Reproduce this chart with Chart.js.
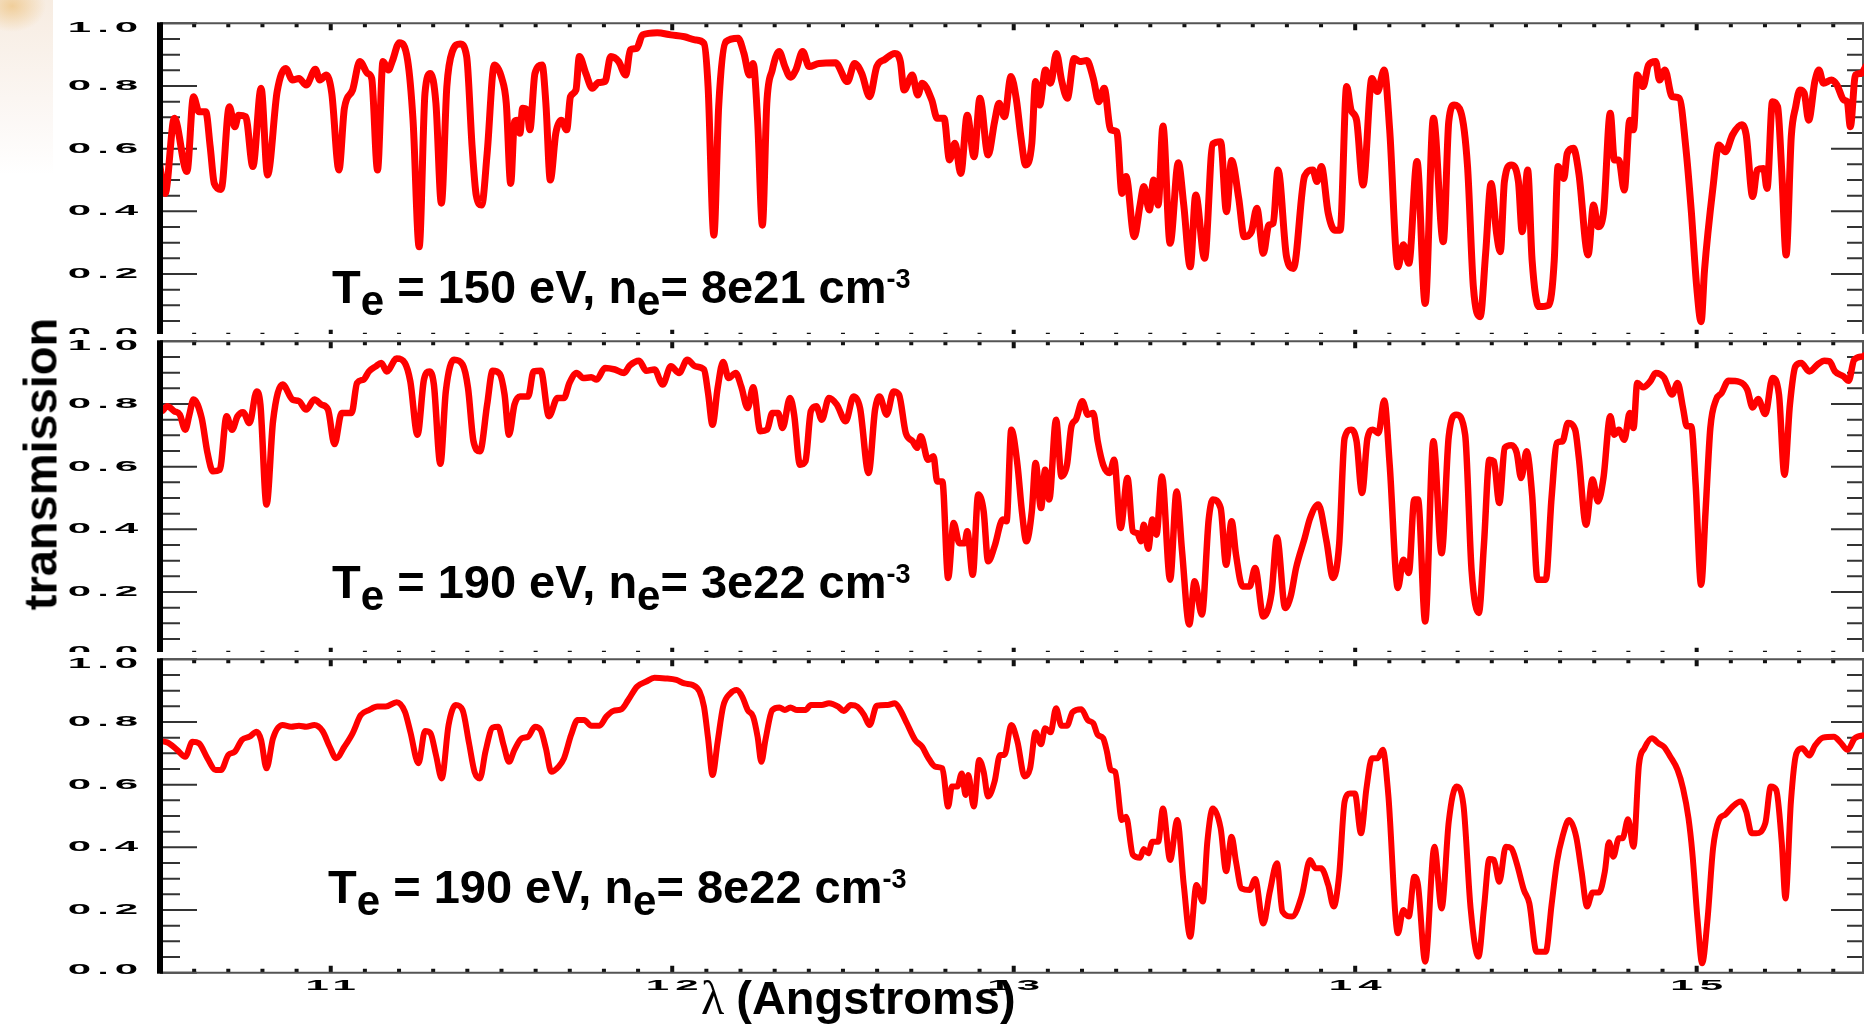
<!DOCTYPE html>
<html>
<head>
<meta charset="utf-8">
<title>Transmission spectra</title>
<script src="https://cdn.jsdelivr.net/npm/chart.js@4.4.0/dist/chart.umd.min.js"></script>
<style>
  body { margin: 0; width: 1864px; height: 1024px; overflow: hidden; position: relative; background: #fff; }
  canvas { position: absolute; left: 0; }
  #corner {
    position: absolute; left: 0; top: 0; width: 53px; height: 175px;
    background:
      radial-gradient(ellipse 34px 26px at 12px 6px, rgba(238, 196, 130, 0.75), rgba(245, 225, 200, 0) 100%),
      linear-gradient(to bottom, rgba(246, 234, 222, 0.9), rgba(250, 244, 240, 0.6) 70%, rgba(255, 255, 255, 0));
  }
  #ytitle {
    position: absolute; left: 40px; top: 464px; z-index: 5;
    transform: translate(-50%, -50%) rotate(-90deg);
    font: bold 47px 'Liberation Sans', Arial, sans-serif; line-height: 1; white-space: nowrap; color: #000;
  }
</style>
</head>
<body>
<div id="corner"></div>
<canvas id="panelTop" width="1864" height="340" style="top:0; z-index:1"></canvas>
<canvas id="panelMid" width="1864" height="340" style="top:334px; z-index:2"></canvas>
<canvas id="panelBot" width="1864" height="372" style="top:652px; z-index:3"></canvas>
<div id="ytitle">transmission</div>

<script>
// Axis ticks
const yTickValues = [0, 0.2, 0.4, 0.6, 0.8, 1.0];
const yTickLabels = ['0.0', '0.2', '0.4', '0.6', '0.8', '1.0'];
const xTickValues = [11, 12, 13, 14, 15];
const xTickLabels = ['11', '12', '13', '14', '15'];

// Plasma conditions for each spectrum
const panelTemps = [150, 190, 190];
const panelDensities = ['8e21', '3e22', '8e22'];

// Te = 150 eV, ne = 8e21
const topLambda = [
  10.494, 10.515, 10.542, 10.579, 10.598, 10.614, 10.634, 10.647, 10.659, 10.679,
  10.703, 10.719, 10.730, 10.751, 10.772, 10.796, 10.815, 10.843, 10.868, 10.888,
  10.907, 10.928, 10.955, 10.968, 10.987, 11.003, 11.024, 11.040, 11.064, 11.085,
  11.108, 11.120, 11.137, 11.153, 11.169, 11.180, 11.201, 11.225, 11.241, 11.259,
  11.276, 11.292, 11.308, 11.324, 11.340, 11.356, 11.379, 11.398, 11.414, 11.426,
  11.442, 11.458, 11.479, 11.501, 11.514, 11.527, 11.538, 11.546, 11.554, 11.562,
  11.575, 11.583, 11.598, 11.619, 11.630, 11.643, 11.659, 11.675, 11.691, 11.702,
  11.718, 11.728, 11.747, 11.766, 11.784, 11.803, 11.820, 11.843, 11.864, 11.877,
  11.896, 11.913, 11.956, 11.996, 12.036, 12.068, 12.093, 12.105, 12.122, 12.136,
  12.157, 12.193, 12.210, 12.226, 12.237, 12.250, 12.264, 12.277, 12.293, 12.313,
  12.330, 12.346, 12.362, 12.382, 12.401, 12.430, 12.478, 12.513, 12.534, 12.555,
  12.578, 12.599, 12.623, 12.652, 12.668, 12.679, 12.703, 12.719, 12.732, 12.760,
  12.776, 12.796, 12.812, 12.828, 12.845, 12.864, 12.884, 12.901, 12.925, 12.944,
  12.957, 12.973, 12.992, 13.008, 13.021, 13.035, 13.053, 13.064, 13.076, 13.093,
  13.108, 13.125, 13.140, 13.157, 13.177, 13.193, 13.214, 13.233, 13.249, 13.265,
  13.284, 13.302, 13.317, 13.329, 13.353, 13.370, 13.381, 13.397, 13.410, 13.423,
  13.437, 13.458, 13.482, 13.498, 13.517, 13.533, 13.559, 13.583, 13.606, 13.623,
  13.638, 13.659, 13.675, 13.696, 13.712, 13.731, 13.747, 13.760, 13.774, 13.799,
  13.819, 13.852, 13.876, 13.888, 13.901, 13.921, 13.940, 13.956, 13.975, 13.988,
  14.004, 14.023, 14.049, 14.065, 14.085, 14.101, 14.125, 14.141, 14.157, 14.181,
  14.205, 14.229, 14.258, 14.274, 14.290, 14.309, 14.329, 14.346, 14.366, 14.382,
  14.398, 14.414, 14.425, 14.437, 14.457, 14.478, 14.489, 14.505, 14.518, 14.538,
  14.567, 14.583, 14.594, 14.611, 14.621, 14.639, 14.655, 14.682, 14.698, 14.711,
  14.727, 14.747, 14.759, 14.772, 14.788, 14.804, 14.815, 14.826, 14.843, 14.859,
  14.880, 14.891, 14.907, 14.928, 14.949, 14.968, 14.984, 15.000, 15.013, 15.023,
  15.048, 15.065, 15.084, 15.105, 15.132, 15.145, 15.164, 15.177, 15.196, 15.206,
  15.222, 15.237, 15.249, 15.262, 15.277, 15.290, 15.302, 15.315, 15.328, 15.346,
  15.358, 15.371, 15.395, 15.411, 15.431, 15.441, 15.450, 15.465, 15.482, 15.495
];
const topTrans = [
  0.590, 0.457, 0.697, 0.527, 0.766, 0.718, 0.718, 0.606, 0.489, 0.470,
  0.734, 0.670, 0.707, 0.702, 0.543, 0.793, 0.516, 0.782, 0.856, 0.819,
  0.824, 0.803, 0.853, 0.819, 0.835, 0.777, 0.532, 0.729, 0.787, 0.878,
  0.840, 0.824, 0.532, 0.878, 0.851, 0.878, 0.938, 0.883, 0.691, 0.287,
  0.777, 0.840, 0.745, 0.426, 0.798, 0.910, 0.934, 0.894, 0.606, 0.452,
  0.420, 0.585, 0.867, 0.824, 0.745, 0.489, 0.686, 0.691, 0.649, 0.729,
  0.723, 0.660, 0.840, 0.867, 0.745, 0.500, 0.649, 0.691, 0.660, 0.766,
  0.787, 0.894, 0.840, 0.793, 0.811, 0.814, 0.894, 0.878, 0.835, 0.915,
  0.920, 0.963, 0.970, 0.963, 0.957, 0.947, 0.936, 0.798, 0.324, 0.734,
  0.941, 0.952, 0.904, 0.835, 0.872, 0.691, 0.356, 0.745, 0.851, 0.910,
  0.862, 0.828, 0.851, 0.910, 0.862, 0.872, 0.874, 0.814, 0.872, 0.840,
  0.766, 0.862, 0.885, 0.904, 0.878, 0.787, 0.835, 0.771, 0.809, 0.755,
  0.697, 0.697, 0.564, 0.617, 0.521, 0.707, 0.574, 0.761, 0.580, 0.686,
  0.745, 0.702, 0.830, 0.755, 0.638, 0.548, 0.617, 0.814, 0.739, 0.851,
  0.809, 0.904, 0.819, 0.761, 0.888, 0.878, 0.881, 0.824, 0.750, 0.793,
  0.660, 0.654, 0.457, 0.511, 0.319, 0.420, 0.479, 0.404, 0.500, 0.420,
  0.672, 0.298, 0.555, 0.420, 0.223, 0.452, 0.250, 0.615, 0.622, 0.399,
  0.562, 0.441, 0.319, 0.335, 0.410, 0.266, 0.356, 0.362, 0.532, 0.255,
  0.218, 0.513, 0.532, 0.495, 0.543, 0.394, 0.340, 0.340, 0.798, 0.723,
  0.691, 0.484, 0.824, 0.782, 0.851, 0.660, 0.223, 0.293, 0.234, 0.559,
  0.106, 0.697, 0.303, 0.686, 0.739, 0.718, 0.543, 0.160, 0.064, 0.266,
  0.489, 0.330, 0.271, 0.495, 0.548, 0.495, 0.335, 0.532, 0.245, 0.096,
  0.101, 0.245, 0.543, 0.505, 0.585, 0.601, 0.521, 0.261, 0.420, 0.351,
  0.394, 0.713, 0.564, 0.564, 0.468, 0.691, 0.660, 0.835, 0.798, 0.867,
  0.878, 0.819, 0.851, 0.766, 0.761, 0.606, 0.404, 0.160, 0.048, 0.213,
  0.479, 0.612, 0.590, 0.644, 0.676, 0.644, 0.447, 0.532, 0.537, 0.473,
  0.750, 0.734, 0.532, 0.261, 0.638, 0.734, 0.787, 0.777, 0.691, 0.814,
  0.851, 0.809, 0.819, 0.803, 0.755, 0.750, 0.670, 0.835, 0.840, 0.862
];

// Te = 190 eV, ne = 3e22
const midLambda = [
  10.491, 10.505, 10.521, 10.542, 10.558, 10.574, 10.586, 10.598, 10.622, 10.639,
  10.655, 10.675, 10.695, 10.711, 10.727, 10.743, 10.762, 10.783, 10.794, 10.812,
  10.831, 10.859, 10.888, 10.907, 10.928, 10.952, 10.973, 10.992, 11.011, 11.032,
  11.061, 11.077, 11.096, 11.112, 11.132, 11.148, 11.164, 11.193, 11.217, 11.233,
  11.254, 11.273, 11.289, 11.302, 11.321, 11.337, 11.361, 11.386, 11.402, 11.418,
  11.437, 11.458, 11.474, 11.495, 11.509, 11.522, 11.538, 11.554, 11.578, 11.594,
  11.615, 11.639, 11.664, 11.683, 11.699, 11.720, 11.739, 11.763, 11.779, 11.803,
  11.832, 11.859, 11.876, 11.903, 11.924, 11.948, 11.972, 11.996, 12.020, 12.044,
  12.068, 12.093, 12.105, 12.118, 12.133, 12.149, 12.165, 12.186, 12.202, 12.221,
  12.237, 12.258, 12.278, 12.293, 12.310, 12.323, 12.345, 12.357, 12.374, 12.390,
  12.406, 12.422, 12.438, 12.459, 12.482, 12.508, 12.531, 12.550, 12.575, 12.594,
  12.607, 12.628, 12.648, 12.664, 12.684, 12.704, 12.717, 12.728, 12.749, 12.765,
  12.776, 12.791, 12.808, 12.824, 12.841, 12.856, 12.864, 12.880, 12.896, 12.912,
  12.925, 12.944, 12.968, 12.979, 12.993, 13.011, 13.024, 13.037, 13.053, 13.064,
  13.080, 13.092, 13.104, 13.124, 13.140, 13.156, 13.169, 13.182, 13.201, 13.217,
  13.233, 13.246, 13.262, 13.281, 13.294, 13.313, 13.333, 13.349, 13.362, 13.373,
  13.381, 13.394, 13.406, 13.418, 13.434, 13.458, 13.477, 13.493, 13.514, 13.530,
  13.551, 13.571, 13.583, 13.606, 13.622, 13.638, 13.651, 13.670, 13.691, 13.707,
  13.731, 13.755, 13.771, 13.795, 13.811, 13.827, 13.852, 13.868, 13.892, 13.916,
  13.935, 13.953, 13.969, 13.988, 14.004, 14.020, 14.036, 14.052, 14.068, 14.085,
  14.101, 14.125, 14.141, 14.157, 14.173, 14.184, 14.205, 14.229, 14.253, 14.274,
  14.296, 14.322, 14.341, 14.362, 14.377, 14.393, 14.406, 14.422, 14.438, 14.457,
  14.473, 14.486, 14.502, 14.518, 14.534, 14.558, 14.575, 14.591, 14.607, 14.623,
  14.644, 14.655, 14.676, 14.695, 14.711, 14.727, 14.747, 14.759, 14.772, 14.788,
  14.804, 14.815, 14.826, 14.843, 14.864, 14.880, 14.904, 14.928, 14.944, 14.960,
  14.971, 14.984, 14.997, 15.013, 15.026, 15.040, 15.057, 15.073, 15.093, 15.126,
  15.148, 15.164, 15.180, 15.201, 15.222, 15.241, 15.257, 15.273, 15.289, 15.306,
  15.330, 15.354, 15.374, 15.389, 15.405, 15.430, 15.445, 15.461, 15.486, 15.495
];
const midTrans = [
  0.809, 0.777, 0.793, 0.777, 0.766, 0.718, 0.766, 0.814, 0.755, 0.644,
  0.585, 0.590, 0.761, 0.718, 0.761, 0.774, 0.739, 0.840, 0.798, 0.479,
  0.745, 0.862, 0.814, 0.809, 0.782, 0.814, 0.798, 0.782, 0.672, 0.771,
  0.771, 0.867, 0.878, 0.904, 0.920, 0.931, 0.904, 0.945, 0.931, 0.872,
  0.702, 0.878, 0.904, 0.862, 0.609, 0.840, 0.941, 0.926, 0.851, 0.681,
  0.649, 0.798, 0.906, 0.896, 0.830, 0.702, 0.798, 0.824, 0.824, 0.904,
  0.906, 0.761, 0.819, 0.819, 0.867, 0.899, 0.883, 0.885, 0.878, 0.915,
  0.910, 0.899, 0.923, 0.938, 0.906, 0.910, 0.862, 0.920, 0.899, 0.941,
  0.920, 0.910, 0.835, 0.734, 0.851, 0.934, 0.883, 0.899, 0.856, 0.787,
  0.853, 0.713, 0.718, 0.771, 0.771, 0.723, 0.819, 0.766, 0.606, 0.617,
  0.777, 0.793, 0.750, 0.819, 0.798, 0.745, 0.824, 0.787, 0.580, 0.782,
  0.824, 0.766, 0.840, 0.830, 0.707, 0.681, 0.660, 0.697, 0.622, 0.633,
  0.553, 0.553, 0.245, 0.420, 0.356, 0.356, 0.394, 0.255, 0.511, 0.457,
  0.298, 0.346, 0.431, 0.426, 0.718, 0.606, 0.457, 0.362, 0.457, 0.612,
  0.468, 0.590, 0.495, 0.750, 0.569, 0.606, 0.729, 0.750, 0.809, 0.766,
  0.771, 0.681, 0.606, 0.580, 0.622, 0.404, 0.564, 0.394, 0.388, 0.362,
  0.415, 0.338, 0.431, 0.383, 0.569, 0.239, 0.521, 0.330, 0.096, 0.234,
  0.128, 0.431, 0.495, 0.468, 0.287, 0.426, 0.319, 0.218, 0.218, 0.277,
  0.122, 0.197, 0.374, 0.149, 0.186, 0.277, 0.372, 0.436, 0.479, 0.362,
  0.245, 0.351, 0.691, 0.718, 0.681, 0.516, 0.691, 0.718, 0.707, 0.811,
  0.606, 0.213, 0.303, 0.261, 0.495, 0.495, 0.106, 0.681, 0.324, 0.697,
  0.766, 0.702, 0.266, 0.133, 0.351, 0.622, 0.617, 0.484, 0.660, 0.668,
  0.644, 0.564, 0.649, 0.511, 0.239, 0.239, 0.500, 0.676, 0.681, 0.739,
  0.718, 0.628, 0.415, 0.559, 0.489, 0.564, 0.761, 0.702, 0.718, 0.686,
  0.771, 0.723, 0.867, 0.853, 0.872, 0.899, 0.885, 0.830, 0.867, 0.787,
  0.729, 0.729, 0.543, 0.223, 0.457, 0.723, 0.814, 0.835, 0.874, 0.870,
  0.846, 0.789, 0.816, 0.768, 0.883, 0.830, 0.574, 0.798, 0.920, 0.931,
  0.904, 0.926, 0.938, 0.936, 0.904, 0.888, 0.874, 0.941, 0.952, 0.957
];

// Te = 190 eV, ne = 8e22
const botLambda = [
  10.491, 10.521, 10.550, 10.574, 10.595, 10.614, 10.639, 10.663, 10.679, 10.700,
  10.719, 10.740, 10.762, 10.783, 10.796, 10.812, 10.831, 10.859, 10.884, 10.907,
  10.928, 10.952, 10.976, 10.997, 11.016, 11.040, 11.064, 11.088, 11.112, 11.137,
  11.161, 11.193, 11.217, 11.233, 11.257, 11.276, 11.292, 11.308, 11.325, 11.345,
  11.366, 11.386, 11.405, 11.421, 11.437, 11.453, 11.474, 11.490, 11.506, 11.522,
  11.538, 11.559, 11.578, 11.598, 11.615, 11.630, 11.646, 11.667, 11.683, 11.704,
  11.723, 11.742, 11.763, 11.787, 11.807, 11.827, 11.852, 11.871, 11.897, 11.924,
  11.948, 11.980, 12.012, 12.036, 12.060, 12.080, 12.093, 12.105, 12.118, 12.133,
  12.149, 12.170, 12.189, 12.205, 12.221, 12.237, 12.250, 12.261, 12.273, 12.293,
  12.314, 12.330, 12.346, 12.366, 12.390, 12.406, 12.438, 12.459, 12.486, 12.502,
  12.523, 12.542, 12.562, 12.578, 12.599, 12.631, 12.652, 12.668, 12.687, 12.711,
  12.732, 12.748, 12.771, 12.791, 12.808, 12.819, 12.835, 12.848, 12.859, 12.867,
  12.883, 12.899, 12.912, 12.925, 12.944, 12.960, 12.973, 12.993, 13.011, 13.032,
  13.048, 13.064, 13.080, 13.092, 13.108, 13.124, 13.140, 13.156, 13.172, 13.198,
  13.217, 13.233, 13.246, 13.262, 13.273, 13.284, 13.297, 13.317, 13.329, 13.349,
  13.370, 13.381, 13.394, 13.406, 13.423, 13.437, 13.458, 13.479, 13.498, 13.517,
  13.535, 13.554, 13.567, 13.583, 13.606, 13.622, 13.638, 13.651, 13.667, 13.691,
  13.707, 13.731, 13.750, 13.771, 13.787, 13.815, 13.844, 13.868, 13.884, 13.900,
  13.921, 13.937, 13.953, 13.969, 13.985, 13.999, 14.017, 14.033, 14.049, 14.065,
  14.081, 14.097, 14.125, 14.141, 14.157, 14.173, 14.184, 14.205, 14.232, 14.253,
  14.274, 14.296, 14.317, 14.338, 14.361, 14.377, 14.393, 14.406, 14.422, 14.441,
  14.457, 14.473, 14.494, 14.510, 14.531, 14.558, 14.575, 14.591, 14.607, 14.626,
  14.647, 14.663, 14.679, 14.695, 14.714, 14.731, 14.743, 14.756, 14.772, 14.783,
  14.799, 14.815, 14.831, 14.847, 14.869, 14.888, 14.904, 14.923, 14.944, 14.960,
  14.976, 14.987, 15.003, 15.016, 15.032, 15.048, 15.065, 15.084, 15.105, 15.129,
  15.145, 15.161, 15.174, 15.201, 15.217, 15.233, 15.249, 15.260, 15.276, 15.292,
  15.309, 15.330, 15.346, 15.370, 15.402, 15.421, 15.442, 15.463, 15.495
];
const botTrans = [
  0.739, 0.735, 0.711, 0.689, 0.737, 0.732, 0.684, 0.647, 0.647, 0.695,
  0.705, 0.743, 0.753, 0.769, 0.743, 0.652, 0.748, 0.790, 0.785, 0.788,
  0.785, 0.790, 0.771, 0.721, 0.684, 0.721, 0.764, 0.822, 0.838, 0.849,
  0.849, 0.863, 0.833, 0.769, 0.668, 0.771, 0.764, 0.695, 0.620, 0.790,
  0.854, 0.838, 0.732, 0.641, 0.620, 0.705, 0.782, 0.785, 0.727, 0.673,
  0.711, 0.748, 0.753, 0.785, 0.774, 0.716, 0.641, 0.657, 0.684, 0.759,
  0.806, 0.806, 0.788, 0.788, 0.817, 0.835, 0.841, 0.870, 0.913, 0.929,
  0.941, 0.939, 0.934, 0.923, 0.918, 0.897, 0.849, 0.748, 0.631, 0.737,
  0.849, 0.891, 0.902, 0.881, 0.838, 0.817, 0.753, 0.673, 0.743, 0.838,
  0.846, 0.838, 0.846, 0.838, 0.838, 0.854, 0.854, 0.860, 0.849, 0.835,
  0.854, 0.849, 0.822, 0.790, 0.852, 0.854, 0.860, 0.838, 0.796, 0.743,
  0.721, 0.689, 0.657, 0.652, 0.530, 0.594, 0.594, 0.636, 0.567, 0.631,
  0.530, 0.679, 0.641, 0.562, 0.610, 0.695, 0.695, 0.790, 0.737, 0.626,
  0.652, 0.767, 0.729, 0.780, 0.767, 0.844, 0.788, 0.788, 0.831, 0.841,
  0.806, 0.796, 0.759, 0.748, 0.705, 0.647, 0.641, 0.487, 0.498, 0.376,
  0.367, 0.395, 0.381, 0.418, 0.418, 0.524, 0.360, 0.487, 0.280, 0.115,
  0.280, 0.227, 0.418, 0.524, 0.461, 0.324, 0.434, 0.354, 0.269, 0.264,
  0.299, 0.157, 0.259, 0.349, 0.195, 0.179, 0.248, 0.360, 0.333, 0.333,
  0.280, 0.211, 0.312, 0.546, 0.572, 0.572, 0.445, 0.588, 0.684, 0.684,
  0.711, 0.567, 0.126, 0.200, 0.179, 0.306, 0.280, 0.035, 0.402, 0.205,
  0.482, 0.594, 0.535, 0.205, 0.051, 0.205, 0.363, 0.360, 0.290, 0.402,
  0.397, 0.349, 0.264, 0.221, 0.067, 0.067, 0.216, 0.354, 0.434, 0.487,
  0.434, 0.322, 0.211, 0.256, 0.256, 0.322, 0.416, 0.370, 0.429, 0.429,
  0.490, 0.402, 0.663, 0.716, 0.748, 0.732, 0.721, 0.689, 0.647, 0.588,
  0.493, 0.386, 0.163, 0.030, 0.173, 0.397, 0.487, 0.505, 0.530, 0.546,
  0.514, 0.445, 0.445, 0.477, 0.594, 0.583, 0.418, 0.237, 0.546, 0.700,
  0.716, 0.693, 0.724, 0.750, 0.753, 0.735, 0.711, 0.748, 0.759
];

const LABEL_FONT = "'Liberation Sans', Arial, sans-serif";

// wide, flat tick numerals
function drawWide(ctx, text, cx, cy) {
  ctx.save();
  ctx.translate(cx, cy);
  ctx.scale(3.0, 1);
  ctx.font = 'bold 14px ' + LABEL_FONT;
  ctx.letterSpacing = '2px';
  ctx.textAlign = 'center';
  ctx.textBaseline = 'middle';
  ctx.fillStyle = '#000';
  ctx.fillText(text, 1, 0);
  ctx.restore();
}

// "Te = ... eV, ne= ... cm-3" with sub/superscripts
function drawCondition(ctx, x, y, temp, dens) {
  const big = 'bold 47px ' + LABEL_FONT;
  const sub = 'bold 42px ' + LABEL_FONT;
  const sup = 'bold 27px ' + LABEL_FONT;
  const parts = [
    { text: 'T', font: big, dy: 0 },
    { text: 'e', font: sub, dy: 12 },
    { text: ' = ' + temp + ' eV, n', font: big, dy: 0 },
    { text: 'e', font: sub, dy: 12 },
    { text: '= ' + dens + ' cm', font: big, dy: 0 },
    { text: '-3', font: sup, dy: -15 }
  ];
  ctx.save();
  ctx.fillStyle = '#000';
  ctx.textBaseline = 'alphabetic';
  ctx.textAlign = 'left';
  let cx = x;
  parts.forEach(p => {
    ctx.font = p.font;
    ctx.fillText(p.text, cx, y + p.dy);
    cx += ctx.measureText(p.text).width;
  });
  ctx.restore();
}

const framePlugin = {
  id: 'frame',
  beforeDraw(chart, args, opts) {
    if (opts.fill) {
      const ctx = chart.ctx;
      ctx.save();
      ctx.fillStyle = opts.fill;
      ctx.fillRect(0, 0, chart.width, chart.height);
      ctx.restore();
    }
  },
  beforeDatasetsDraw(chart) {
    const { ctx, chartArea: a, scales: { x, y } } = chart;
    ctx.save();

    // y ticks every 0.05 on both sides
    ctx.strokeStyle = '#333';
    ctx.lineWidth = 2;
    ctx.beginPath();
    for (let i = 0; i <= 20; i++) {
      const py = y.getPixelForValue(i * 0.05);
      const major = i % 4 === 0;
      ctx.moveTo(a.left, py);
      ctx.lineTo(a.left + (major ? 37 : 20), py);
      ctx.moveTo(a.right, py);
      ctx.lineTo(a.right - (major ? 33 : 17), py);
    }
    ctx.stroke();

    // x ticks every 0.1 on top and bottom
    ctx.strokeStyle = '#111';
    ctx.lineWidth = 4;
    ctx.beginPath();
    for (let k = 106; k <= 154; k++) {
      const px = x.getPixelForValue(k / 10);
      const len = k % 10 === 0 ? 7 : 4;
      ctx.moveTo(px, a.top);
      ctx.lineTo(px, a.top + len);
      ctx.moveTo(px, a.bottom);
      ctx.lineTo(px, a.bottom - len);
    }
    ctx.stroke();

    // thin frame
    ctx.strokeStyle = '#555';
    ctx.lineWidth = 2;
    ctx.beginPath();
    ctx.moveTo(a.left, a.top);
    ctx.lineTo(a.right - 1, a.top);
    ctx.lineTo(a.right - 1, a.bottom);
    ctx.lineTo(a.left, a.bottom);
    ctx.stroke();
    ctx.restore();
  },
  afterDatasetsDraw(chart, args, opts) {
    const { ctx, chartArea: a, scales: { x, y } } = chart;
    ctx.save();
    // heavy left axis
    ctx.fillStyle = '#000';
    ctx.fillRect(a.left - 3, a.top - 1, 6, a.bottom - a.top + 2);
    ctx.restore();

    yTickValues.forEach((v, i) => {
      const py = Math.min(Math.max(y.getPixelForValue(v), a.top + 4.5), a.bottom - 2.5);
      drawWide(ctx, yTickLabels[i], 103, py);
    });

    if (opts.xLabels) {
      xTickValues.forEach((v, i) => {
        drawWide(ctx, xTickLabels[i], x.getPixelForValue(v), a.bottom + 13);
      });
      // axis title
      ctx.save();
      ctx.fillStyle = '#000';
      ctx.textBaseline = 'alphabetic';
      ctx.textAlign = 'left';
      const base = a.bottom + 41;
      ctx.font = '48px "Liberation Serif", "DejaVu Serif", serif';
      ctx.fillText('λ', 701, base);
      const lw = ctx.measureText('λ ').width;
      ctx.font = 'bold 47px ' + LABEL_FONT;
      ctx.fillText('(Angstroms)', 701 + lw, base);
      ctx.restore();
    }

    drawCondition(ctx, a.left + opts.textX, a.top + opts.textY, opts.temp, opts.dens);
  }
};

function makePanel(canvasId, lambdas, trans, idx, layout) {
  const points = lambdas.map((l, i) => ({ x: l, y: trans[i] }));
  return new Chart(document.getElementById(canvasId), {
    type: 'line',
    data: {
      datasets: [{
        data: points,
        borderColor: '#ff0000',
        borderWidth: layout.lineWidth,
        borderJoinStyle: 'round',
        borderCapStyle: 'round',
        pointRadius: 0,
        cubicInterpolationMode: 'monotone',
        fill: false
      }]
    },
    options: {
      responsive: false,
      animation: false,
      parsing: false,
      layout: { padding: { left: 160, right: 0, top: layout.top, bottom: layout.bottom } },
      scales: {
        x: { type: 'linear', min: 10.5, max: 15.49, display: false },
        y: { type: 'linear', min: 0, max: 1, display: false }
      },
      plugins: {
        legend: { display: false },
        tooltip: { enabled: false },
        frame: {
          fill: layout.fill,
          xLabels: layout.xLabels,
          textX: layout.textX,
          textY: layout.textY,
          temp: panelTemps[idx],
          dens: panelDensities[idx]
        }
      }
    },
    plugins: [framePlugin]
  });
}

makePanel('panelTop', topLambda, topTrans, 0,
  { top: 23.3, bottom: 3.3, lineWidth: 7, fill: null, xLabels: false, textX: 172, textY: 280 });
makePanel('panelMid', midLambda, midTrans, 1,
  { top: 7.3, bottom: 19.3, lineWidth: 6.5, fill: '#fff', xLabels: false, textX: 172, textY: 257 });
makePanel('panelBot', botLambda, botTrans, 2,
  { top: 7.3, bottom: 51.3, lineWidth: 6, fill: '#fff', xLabels: true, textX: 168, textY: 244 });
</script>
</body>
</html>
